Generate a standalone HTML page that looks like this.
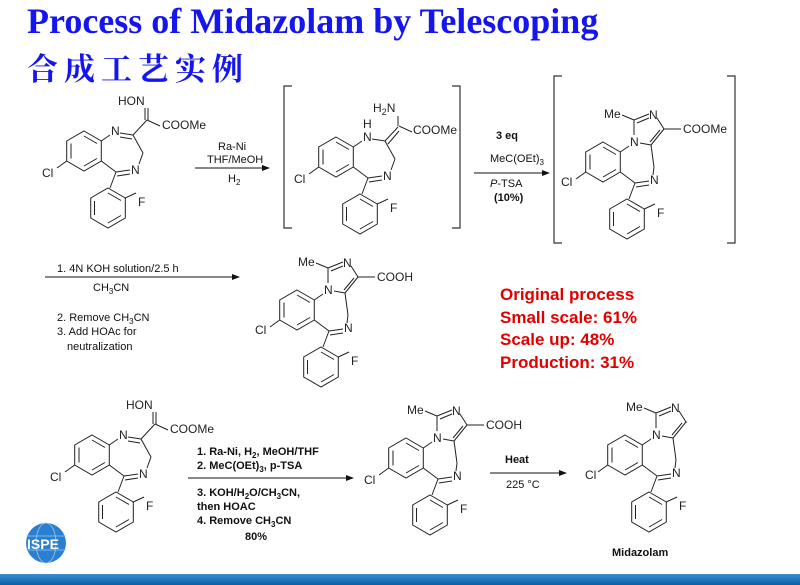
<!DOCTYPE html>
<html><head><meta charset="utf-8"><style>
body{margin:0;width:800px;height:585px;overflow:hidden;background:#fff;position:relative;font-family:"Liberation Sans",sans-serif}
.t1{position:absolute;left:27px;top:0px;font:bold 36px "Liberation Serif",serif;color:#1515f0;white-space:nowrap}
.t2{position:absolute;left:27px;top:44px;font:bold 31px "Liberation Serif","Noto Serif CJK SC",serif;color:#1515f0;letter-spacing:6px}
.red{position:absolute;left:500px;top:284px;font:bold 17px "Liberation Sans",sans-serif;color:#e00000;line-height:22.5px}
.bar{position:absolute;left:0;top:574px;width:800px;height:11px;background:linear-gradient(#3a8fd0,#0a5fa8)}
</style></head><body>
<div class="t1">Process of Midazolam by Telescoping</div>
<div class="t2">合成工艺实例</div>
<div class="red">Original process<br>Small scale: 61%<br>Scale up: 48%<br>Production: 31%</div>
<svg width="800" height="585" style="position:absolute;left:0;top:0" font-family="Liberation Sans, sans-serif">
<defs>
<g id="core" stroke="#222" stroke-width="1" fill="none">
<polygon points="0,-20 17.3,-10 17.3,10 0,20 -17.3,10 -17.3,-10"/>
<line x1="-13" y1="-7.5" x2="-13" y2="7.5"/><line x1="0" y1="-15" x2="13" y2="-7.5"/><line x1="13" y1="7.5" x2="0" y2="15"/>
<line x1="17.3" y1="-10" x2="26" y2="-16"/>
<line x1="17.3" y1="10" x2="32" y2="21"/><line x1="32" y1="21" x2="26" y2="37"/>
<line x1="32" y1="21" x2="46" y2="19"/><line x1="33" y1="25" x2="46" y2="23"/>
<polygon points="24,37 41.3,47 41.3,67 24,77 6.7,67 6.7,47"/>
<line x1="10.5" y1="50" x2="10.5" y2="64"/><line x1="24" y1="72" x2="37" y2="64.5"/><line x1="24" y1="42" x2="37" y2="49.5"/>
<line x1="41.3" y1="47" x2="52" y2="42"/>
<line x1="-17.3" y1="10" x2="-27" y2="17"/>
</g>
<g id="fused" stroke="#222" stroke-width="1" fill="none">
<line x1="31" y1="-27" x2="31" y2="-42"/><line x1="31" y1="-42" x2="46" y2="-48"/><line x1="34" y1="-39" x2="46" y2="-44"/>
<line x1="54" y1="-44" x2="61" y2="-33"/><line x1="61" y1="-33" x2="48" y2="-17"/><line x1="57" y1="-32" x2="47" y2="-20"/>
<line x1="48" y1="-17" x2="37" y2="-19"/><line x1="48" y1="-17" x2="51" y2="5"/><line x1="51" y1="5" x2="50" y2="13"/>
<line x1="31" y1="-42" x2="19" y2="-47"/><line x1="61" y1="-33" x2="78" y2="-33"/>
</g>
<g id="chain" stroke="#222" stroke-width="1" fill="none">
<line x1="49" y1="-16" x2="59" y2="2"/><line x1="59" y1="2" x2="55" y2="13"/>
<line x1="76" y1="-25" x2="63" y2="-31"/>
</g>
</defs>
<g font-size="12" fill="#222">
<!-- mol1 -->
<g transform="translate(84,151)"><use href="#core"/><use href="#chain"/>
<g stroke="#222"><line x1="36" y1="-18" x2="49" y2="-16"/><line x1="36" y1="-14" x2="48" y2="-12"/><line x1="49" y1="-16" x2="63" y2="-31"/><line x1="61" y1="-31" x2="61" y2="-43"/><line x1="64" y1="-31" x2="64" y2="-43"/></g>
<text x="27" y="-16">N</text><text x="47" y="23">N</text><text x="34" y="-46">HON</text><text x="78" y="-22">COOMe</text><text x="54" y="55">F</text><text x="-42" y="26">Cl</text></g>
<!-- mol2 -->
<g transform="translate(336,157)"><use href="#core"/><use href="#chain"/>
<g stroke="#222"><line x1="36" y1="-18" x2="49" y2="-16"/><line x1="49" y1="-16" x2="62" y2="-30"/><line x1="52" y1="-13" x2="63" y2="-26"/><line x1="62" y1="-31" x2="62" y2="-41"/></g>
<text x="27" y="-16">N</text><text x="27" y="-29">H</text><text x="47" y="23">N</text><text x="37" y="-45">H<tspan font-size="9" dy="3">2</tspan><tspan dy="-3">N</tspan></text><text x="77" y="-23">COOMe</text><text x="54" y="55">F</text><text x="-42" y="26">Cl</text></g>
<!-- mol3 -->
<g transform="translate(603,162)"><use href="#core"/><use href="#fused"/>
<text x="27" y="-16">N</text><text x="46" y="-43">N</text><text x="47" y="22">N</text><text x="1" y="-44">Me</text><text x="80" y="-29">COOMe</text><text x="54" y="55">F</text><text x="-42" y="24">Cl</text></g>
<!-- mol4 -->
<g transform="translate(297,310)"><use href="#core"/><use href="#fused"/>
<text x="27" y="-16">N</text><text x="46" y="-43">N</text><text x="47" y="22">N</text><text x="1" y="-44">Me</text><text x="80" y="-29">COOH</text><text x="54" y="55">F</text><text x="-42" y="24">Cl</text></g>
<!-- mol5 -->
<g transform="translate(92,455)"><use href="#core"/><use href="#chain"/>
<g stroke="#222"><line x1="36" y1="-18" x2="49" y2="-16"/><line x1="36" y1="-14" x2="48" y2="-12"/><line x1="49" y1="-16" x2="63" y2="-31"/><line x1="61" y1="-31" x2="61" y2="-43"/><line x1="64" y1="-31" x2="64" y2="-43"/></g>
<text x="27" y="-16">N</text><text x="47" y="23">N</text><text x="34" y="-46">HON</text><text x="78" y="-22">COOMe</text><text x="54" y="55">F</text><text x="-42" y="26">Cl</text></g>
<!-- mol6 -->
<g transform="translate(406,458)"><use href="#core"/><use href="#fused"/>
<text x="27" y="-16">N</text><text x="46" y="-43">N</text><text x="47" y="22">N</text><text x="1" y="-44">Me</text><text x="80" y="-29">COOH</text><text x="54" y="55">F</text><text x="-42" y="26">Cl</text></g>
<!-- mol7 -->
<g transform="translate(625,455)"><use href="#core"/><use href="#fused"/><line x1="62" y1="-33" x2="79" y2="-33" stroke="#fff" stroke-width="3"/>
<text x="27" y="-16">N</text><text x="46" y="-43">N</text><text x="47" y="22">N</text><text x="1" y="-44">Me</text><text x="54" y="55">F</text><text x="-40" y="24">Cl</text></g>
</g>
<!-- brackets -->
<g stroke="#333" stroke-width="1.2" fill="none">
<polyline points="292,86 284,86 284,228 292,228"/><polyline points="452,86 460,86 460,228 452,228"/>
<polyline points="562,76 554,76 554,243 562,243"/><polyline points="727,76 735,76 735,243 727,243"/>
</g>
<!-- arrows -->
<g stroke="#111" stroke-width="1">
<line x1="195" y1="168" x2="266" y2="168"/><line x1="474" y1="173" x2="546" y2="173"/>
<line x1="45" y1="277" x2="236" y2="277"/><line x1="188" y1="478" x2="350" y2="478"/><line x1="490" y1="473" x2="563" y2="473"/>
</g>
<g fill="#111">
<polygon points="270,168 262,165 262,171"/><polygon points="550,173 542,170 542,176"/><polygon points="240,277 232,274 232,280"/><polygon points="354,478 346,475 346,481"/><polygon points="567,473 559,470 559,476"/>
</g>
<g font-size="11" fill="#111">
<text x="218" y="150">Ra-Ni</text><text x="207" y="163">THF/MeOH</text><text x="228" y="182">H<tspan font-size="8" dy="3">2</tspan></text>
<text x="496" y="139" font-weight="bold">3 eq</text><text x="490" y="162">MeC(OEt)<tspan font-size="8" dy="3">3</tspan></text>
<text x="490" y="187"><tspan font-style="italic">P</tspan>-TSA</text><text x="494" y="201" font-weight="bold">(10%)</text>
<text x="57" y="272">1. 4N KOH solution/2.5 h</text><text x="93" y="291">CH<tspan font-size="8" dy="3">3</tspan><tspan dy="-3">CN</tspan></text>
<text x="57" y="321">2. Remove CH<tspan font-size="8" dy="3">3</tspan><tspan dy="-3">CN</tspan></text><text x="57" y="335">3. Add HOAc for</text><text x="67" y="350">neutralization</text>
</g>
<g font-size="11" font-weight="bold" fill="#111">
<text x="197" y="455">1. Ra-Ni, H<tspan font-size="8" dy="3">2</tspan><tspan dy="-3">, MeOH/THF</tspan></text>
<text x="197" y="469">2. MeC(OEt)<tspan font-size="8" dy="3">3</tspan><tspan dy="-3">, p-TSA</tspan></text>
<text x="197" y="496">3. KOH/H<tspan font-size="8" dy="3">2</tspan><tspan dy="-3">O/CH</tspan><tspan font-size="8" dy="3">3</tspan><tspan dy="-3">CN,</tspan></text>
<text x="197" y="510">then HOAC</text>
<text x="197" y="524">4. Remove CH<tspan font-size="8" dy="3">3</tspan><tspan dy="-3">CN</tspan></text>
<text x="245" y="540">80%</text>
<text x="505" y="463">Heat</text><text x="506" y="488" font-weight="normal">225 °C</text>
<text x="612" y="556">Midazolam</text>
</g>
<!-- ISPE logo -->
<circle cx="46" cy="543" r="20" fill="#2a7fd0"/>
<g stroke="#9cc8f0" stroke-width="0.8" fill="none"><ellipse cx="46" cy="543" rx="10" ry="20"/><line x1="26" y1="536" x2="66" y2="536"/><line x1="26" y1="550" x2="66" y2="550"/></g>
<text x="27" y="549" font-size="14" font-weight="bold" fill="#fff" font-family="Liberation Sans Narrow, Liberation Sans, sans-serif">ISPE</text>
</svg>
<div class="bar"></div>
</body></html>
